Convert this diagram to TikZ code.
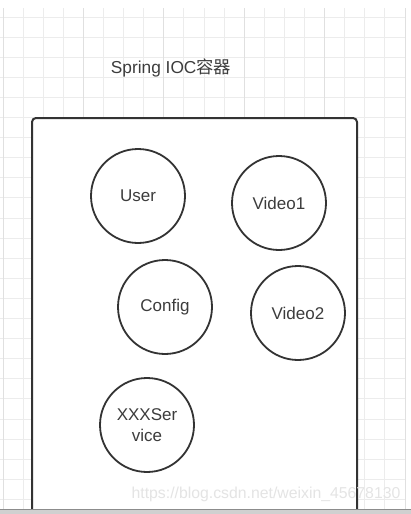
\documentclass[tikz,border=0pt]{standalone}
\usepackage{fontspec}
\setmainfont{Liberation Sans}
\newfontfamily\cjk{Noto Sans CJK SC}
\definecolor{gridminor}{HTML}{ECECEC}
\definecolor{gridmajor}{HTML}{E0E0E0}
\definecolor{inkgray}{HTML}{333333}
\definecolor{textgray}{HTML}{3C3C3C}
\definecolor{barfill}{HTML}{D0D0D0}
\definecolor{barline}{HTML}{8C8C8C}
\definecolor{markgray}{HTML}{E4E4E4}

\begin{document}
\begin{tikzpicture}[x=1pt, y=-1pt,
    bean/.style={circle, draw=inkgray, line width=1.8pt, fill=white, minimum size=94pt,
      inner sep=0pt, text=textgray, font=\fontsize{17}{21}\selectfont, align=center}]
    \useasboundingbox (0,0) rectangle (411,514);

    % Grid background
    \foreach \i in {0,...,20}
        \draw[gridminor, line width=0.9pt] ({3+20.1*\i},8) -- ({3+20.1*\i},509);
    \foreach \j in {0,...,24}
        \draw[gridminor, line width=0.9pt] (0,{17+20.1*\j}) -- (405,{17+20.1*\j});
    \foreach \i in {0,4,...,20}
        \draw[gridmajor, line width=0.9pt] ({3+20.1*\i},8) -- ({3+20.1*\i},509);

    % Title
    \node[text=textgray, font=\fontsize{17.3}{20}\selectfont] (title) at (171,68) {Spring IOC{\cjk 容器}};

    % Container
    \draw[inkgray, line width=2pt, fill=white, rounded corners=4pt] (32,118) rectangle (357,530);

    % Beans
    \node[bean] (user)    at (138,196) {User};
    \node[bean] (video1)  at (279,203) {Video1};
    \node[bean] (config)  at (165,307) {Config};
    \node[bean] (video2)  at (298,313) {Video2};
    \node[bean] (service) at (147,425) {XXXSer\\vice};

    % Watermark
    \node[text=markgray, font=\fontsize{15.8}{18}\selectfont] (mark) at (266,494) {https://blog.csdn.net/weixin\_45678130};

    % Bottom bar
    \fill[barfill] (0,509) rectangle (411,514);
    \draw[barline, line width=1pt] (0,509) -- (411,509);
\end{tikzpicture}
\end{document}
